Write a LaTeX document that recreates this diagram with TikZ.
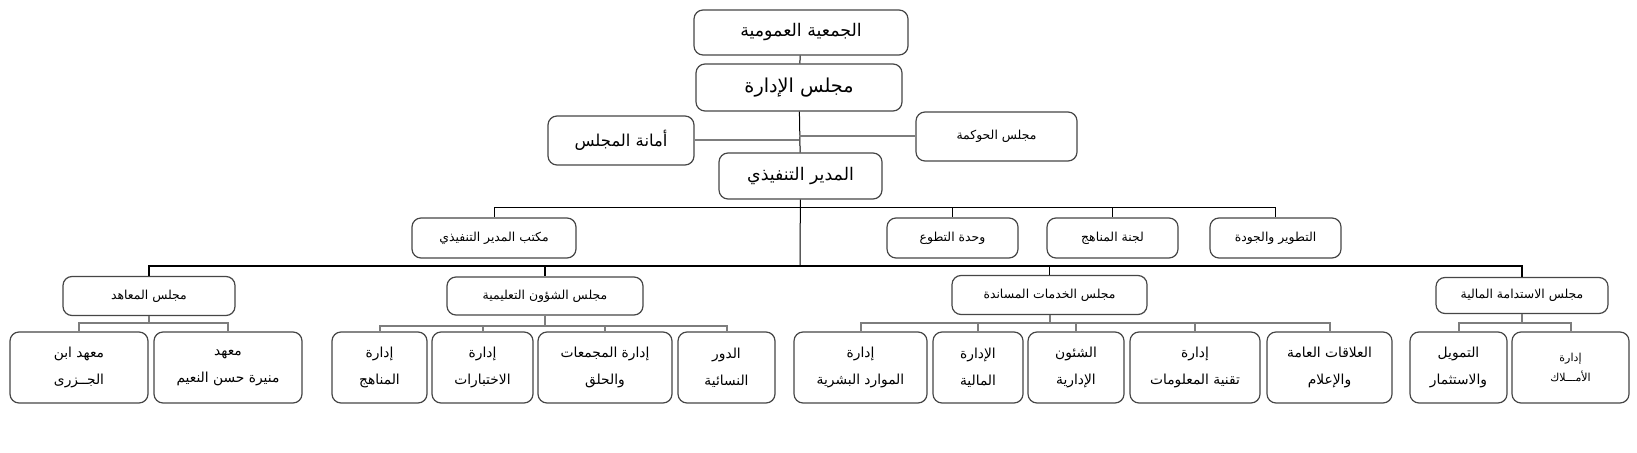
\documentclass[tikz,border=0pt]{standalone}
\usepackage{fontspec}
\usepackage{tikz}
\usetikzlibrary{positioning,calc}
\newfontfamily\arabicfont[Script=Arabic]{DejaVu Sans}
\TeXXeTstate=1
\definecolor{boxline}{RGB}{70,70,70}
\definecolor{subline}{RGB}{125,125,125}
\newcommand{\ar}[1]{\beginR#1\endR}

\begin{document}
\begin{tikzpicture}[x=0.5pt,y=-0.5pt,
  every node/.style={align=center},
  box/.style 2 args={draw=boxline,line width=0.6pt,rounded corners=4.5pt,fill=white,inner sep=0pt,
    minimum width=#1*0.5pt,minimum height=#2*0.5pt},
  topfont/.style={font=\arabicfont\fontsize{8.7}{11}\selectfont},
  midfont/.style={font=\arabicfont\fontsize{6.2}{8}\selectfont},
  lowfont/.style={font=\arabicfont\fontsize{6.9}{13.5}\selectfont},
  line/.style={draw=black,line width=0.5pt},
  bus/.style={draw=black,line width=0.8pt},
  sub/.style={draw=subline,line width=1pt}]
  \useasboundingbox (0,0) rectangle (1637,453);
  % top levels
  \node[box={214}{45},topfont] (ga) at (801,32.5) {\ar{الجمعية العمومية}};
  \node[box={206}{47},font=\arabicfont\fontsize{9.6}{12}\selectfont] (board) at (799,87.5) {\ar{مجلس الإدارة}};
  \node[box={146}{49},font=\arabicfont\fontsize{8.2}{10}\selectfont] (sec) at (621,140.5) {\ar{أمانة المجلس}};
  \node[box={161}{49},midfont] (gov) at (996.5,136.5) {\ar{مجلس الحوكمة}};
  \node[box={163}{46},topfont] (ceo) at (800.5,176) {\ar{المدير التنفيذي}};
  \coordinate (b2) at (800,208);
  \coordinate (b3) at (800,266);
  % offices under the director
  \node[box={164}{40},midfont] (office) at (494,238) {\ar{مكتب المدير التنفيذي}};
  \node[box={131}{40},midfont] (vol) at (952.5,238) {\ar{وحدة التطوع}};
  \node[box={131}{40},midfont] (cur) at (1112.5,238) {\ar{لجنة المناهج}};
  \node[box={131}{40},midfont] (qual) at (1275.5,238) {\ar{التطوير والجودة}};
  % councils
  \node[box={172}{39},midfont] (inst) at (149,296) {\ar{مجلس المعاهد}};
  \node[box={196}{38},midfont] (edu) at (545,296) {\ar{مجلس الشؤون التعليمية}};
  \node[box={195}{39},midfont] (supp) at (1049.5,295) {\ar{مجلس الخدمات المساندة}};
  \node[box={172}{36},midfont] (fin) at (1522,295.5) {\ar{مجلس الاستدامة المالية}};
  % departments
  \node[box={138}{71},lowfont] (jaz) at (79,367.5) {\ar{معهد ابن}\\\ar{الجــزرى}};
  \node[box={148}{71},lowfont] (mun) at (228,367.5) {\ar{معهد}\\\ar{منيرة حسن النعيم}};
  \node[box={95}{71},lowfont] (man) at (379.5,367.5) {\ar{إدارة}\\\ar{المناهج}};
  \node[box={101}{71},lowfont] (exam) at (482.5,367.5) {\ar{إدارة}\\\ar{الاختبارات}};
  \node[box={134}{71},lowfont] (halaq) at (605,367.5) {\ar{إدارة المجمعات}\\\ar{والحلق}};
  \node[box={97}{71},lowfont] (women) at (726.5,367.5) {\ar{الدور}\\\ar{النسائية}};
  \node[box={133}{71},lowfont] (hr) at (860.5,367.5) {\ar{إدارة}\\\ar{الموارد البشرية}};
  \node[box={90}{71},lowfont] (fd) at (978,367.5) {\ar{الإدارة}\\\ar{المالية}};
  \node[box={96}{71},lowfont] (adm) at (1076,367.5) {\ar{الشئون}\\\ar{الإدارية}};
  \node[box={130}{71},lowfont] (it) at (1195,367.5) {\ar{إدارة}\\\ar{تقنية المعلومات}};
  \node[box={125}{71},lowfont] (pr) at (1329.5,367.5) {\ar{العلاقات العامة}\\\ar{والإعلام}};
  \node[box={97}{71},lowfont] (inv) at (1458.5,367.5) {\ar{التمويل}\\\ar{والاستثمار}};
  \node[box={117}{71},font=\arabicfont\fontsize{5.5}{10}\selectfont] (prop) at (1570.5,367.5) {\ar{إدارة}\\\ar{الأمـــلاك}};
  % connectors
  \draw[line] (ga) -- (board);
  \draw[line] (board) -- (ceo);
  \draw[line] (ceo) -- (b3);
  \draw[sub] (sec.east) -- (sec.east -| board.south);
  \draw[sub] (gov.west) -- (gov.west -| board.south);
  \foreach \c in {office,vol,cur,qual} \draw[line] (b2) -| (\c.north);
  \foreach \c in {inst,edu,supp,fin} \draw[bus] (b3) -| (\c.north);
  \foreach \c in {jaz,mun} \draw[sub] (inst.south) -- ++(0,7) -| (\c.north);
  \foreach \c in {man,exam,halaq,women} \draw[sub] (edu.south) -- ++(0,10) -| (\c.north);
  \foreach \c in {hr,fd,adm,it,pr} \draw[sub] (supp.south) -- ++(0,8) -| (\c.north);
  \foreach \c in {inv,prop} \draw[sub] (fin.south) -- ++(0,9) -| (\c.north);
\end{tikzpicture}
\end{document}
